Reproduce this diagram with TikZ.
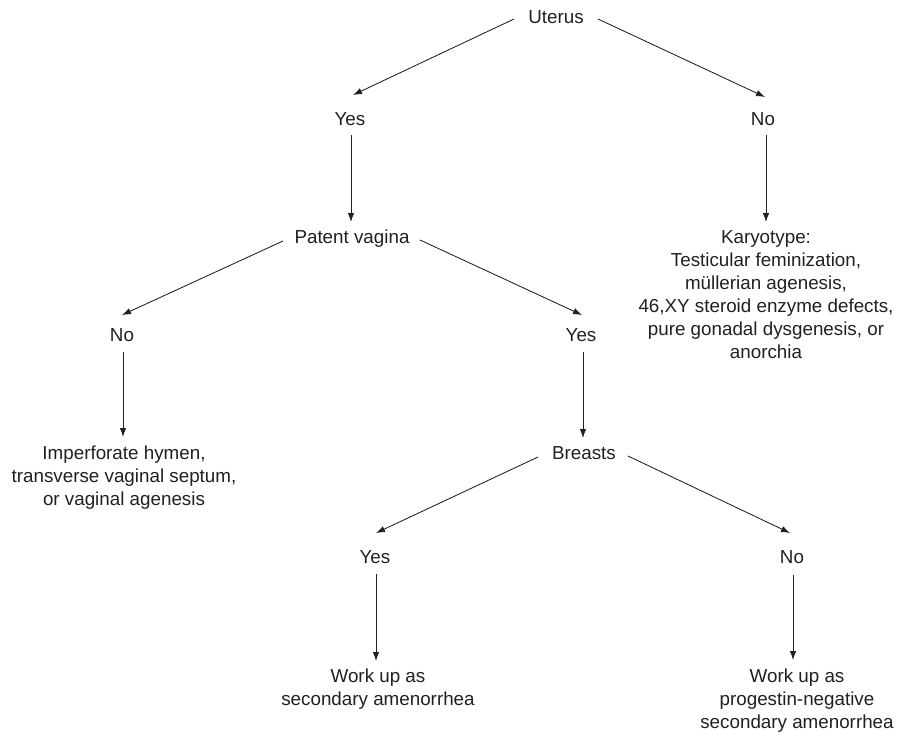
\documentclass[tikz,border=0pt]{standalone}
\usepackage{fontspec}
\setmainfont{Liberation Sans}
\usetikzlibrary{arrows.meta}
\definecolor{ink}{HTML}{231F20}
\begin{document}
\begin{tikzpicture}[x=1pt,y=-1pt,
  lbl/.style={inner sep=0pt,text height=13.5pt,text depth=0pt,text=ink,font=\fontsize{18.8}{23}\selectfont},
  multi/.style={inner sep=0pt,align=center,anchor=north,text=ink,font=\fontsize{18.8}{23}\selectfont},
  arr/.style={draw=ink,line width=0.85pt,-{Latex[length=9pt,width=6.5pt]}}]
\useasboundingbox (0,0) rectangle (899,736);
% nodes
\node[lbl] (uterus) at (556,17) {Uterus};
\node[lbl] (yes1) at (350,119) {Yes};
\node[lbl] (no1) at (763,119) {No};
\node[lbl] (patent) at (352,237) {Patent vagina};
\node[lbl] (no2) at (122,335) {No};
\node[lbl] (yes2) at (581,335) {Yes};
\node[multi] (imperf) at (124,446) {Imperforate hymen,\\transverse vaginal septum,\\or vaginal agenesis};
\node[multi] (karyo) at (766,230) {Karyotype:\\Testicular feminization,\\müllerian agenesis,\\46,XY steroid enzyme defects,\\pure gonadal dysgenesis, or\\anorchia};
\node[lbl] (breasts) at (584,453) {Breasts};
\node[lbl] (yes3) at (375,557) {Yes};
\node[lbl] (no3) at (792,557) {No};
\node[multi] (work1) at (378,669) {Work up as\\secondary amenorrhea};
\node[multi] (work2) at (797,669) {Work up as\\progestin-negative\\secondary amenorrhea};
% connectors
\draw[arr] ([shift={(-42,2)}]uterus.center) -- ([shift={(3,-24)}]yes1.center);
\draw[arr] ([shift={(42,2)}]uterus.center) -- ([shift={(2,-22)}]no1.center);
\draw[arr] ([shift={(1,16)}]yes1.center) -- ([shift={(-1,-15)}]patent.center);
\draw[arr] ([shift={(-69,4)}]patent.center) -- ([shift={(0,-20)}]no2.center);
\draw[arr] ([shift={(68,3)}]patent.center) -- ([shift={(1,-20)}]yes2.center);
\draw[arr] ([shift={(1,17)}]no2.center) -- ([shift={(-1,-9)}]imperf.north);
\draw[arr] ([shift={(3,16)}]no1.center) -- ([shift={(0,-8)}]karyo.north);
\draw[arr] ([shift={(2,17)}]yes2.center) -- ([shift={(-1,-15)}]breasts.center);
\draw[arr] ([shift={(-46,4)}]breasts.center) -- ([shift={(1,-24)}]yes3.center);
\draw[arr] ([shift={(44,3)}]breasts.center) -- ([shift={(-2,-24)}]no3.center);
\draw[arr] ([shift={(1,17)}]yes3.center) -- ([shift={(-2,-8)}]work1.north);
\draw[arr] ([shift={(1,18)}]no3.center) -- ([shift={(-4,-9)}]work2.north);
\end{tikzpicture}
\end{document}
